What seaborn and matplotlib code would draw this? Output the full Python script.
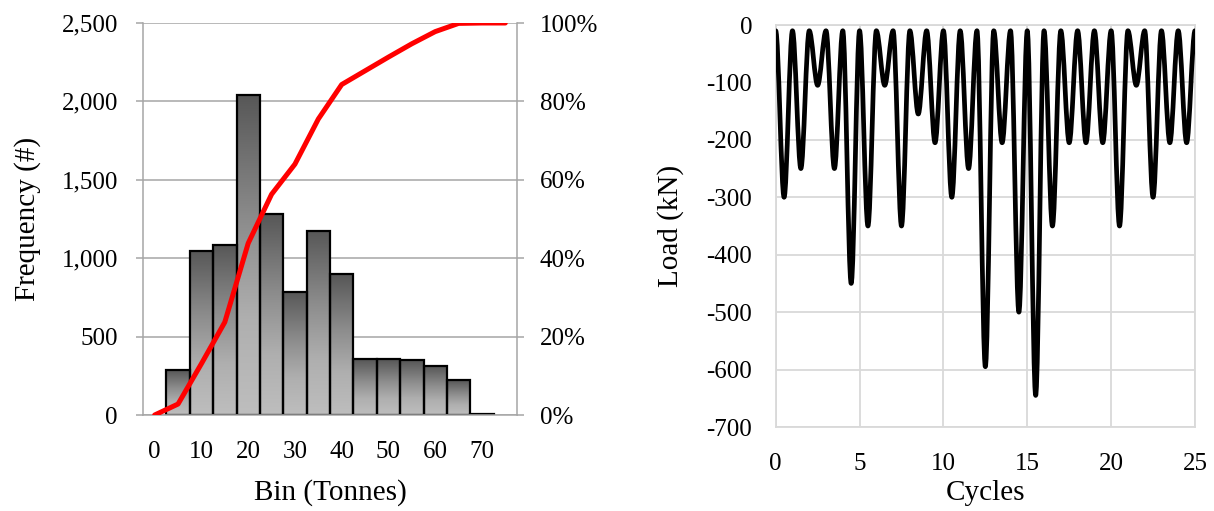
import numpy as np
import pandas as pd
import matplotlib
matplotlib.use("Agg")
import matplotlib.pyplot as plt
import seaborn as sns
from matplotlib.path import Path
from matplotlib.patches import PathPatch
from matplotlib.ticker import FuncFormatter
from matplotlib.colors import LinearSegmentedColormap

# ---- Load histogram (left panel) ----
bin_tonnes = [0, 5, 10, 15, 20, 25, 30, 35, 40, 45, 50, 55, 60, 65, 70, 75]
frequency = [0, 285, 1049, 1087, 2043, 1279, 786, 1175, 898, 355, 355, 350, 310, 223, 6, 0]
cumulative_pct = [0, 2.8, 13.1, 23.7, 43.8, 56.3, 64.0, 75.5, 84.3, 87.8, 91.3, 94.7, 97.8, 99.9, 100, 100]
freq_ticks = [0, 500, 1000, 1500, 2000, 2500]
pct_ticks = [0, 20, 40, 60, 80, 100]
bin_tick_labels = ["0", "10", "20", "30", "40", "50", "60", "70"]

# ---- Load history (right panel) ----
peak_load = -10
trough_load = [-300, -250, -105, -250, -450, -350, -105, -350, -155, -205,
               -300, -250, -595, -205, -500, -645, -350, -205, -205, -205,
               -350, -105, -300, -205, -205]
cycle_ticks = [0, 5, 10, 15, 20, 25]
load_ticks = [0, -100, -200, -300, -400, -500, -600, -700]

TICK_FS = 18
TITLE_FS = 21

sns.set_theme(style="white")
plt.rcParams["font.family"] = ["Liberation Serif", "DejaVu Serif"]
plt.rcParams["font.size"] = TICK_FS
plt.rcParams["axes.unicode_minus"] = False
plt.rcParams["text.color"] = "black"
plt.rcParams["axes.labelcolor"] = "black"
plt.rcParams["xtick.color"] = "black"
plt.rcParams["ytick.color"] = "black"

W, H = 1214, 511
fig = plt.figure(figsize=(W / 100, H / 100), dpi=100)


def px_axes(x0, y0, x1, y1):
    return fig.add_axes([x0 / W, 1 - y1 / H, (x1 - x0) / W, (y1 - y0) / H])


# ================= Histogram with cumulative curve =================
ax1 = px_axes(143, 23, 517, 415)
hist_df = pd.DataFrame({"bin": [str(b) for b in bin_tonnes], "freq": frequency})
sns.barplot(data=hist_df, x="bin", y="freq", order=hist_df["bin"], width=1.0,
            color="white", saturation=1, edgecolor="black", linewidth=1.6,
            ax=ax1, zorder=2)

grey_ramp = LinearSegmentedColormap.from_list(
    "bar_ramp", [(0.0, "#bebebe"), (0.3, "#afafaf"), (0.6, "#8d8d8d"), (1.0, "#575757")])
ramp = np.linspace(0, 1, 256).reshape(-1, 1)
for bar in list(ax1.patches):
    h = bar.get_height()
    if h <= 0:
        bar.set_visible(False)
        continue
    bar.set_facecolor("none")
    x0 = bar.get_x()
    ax1.imshow(ramp, extent=[x0, x0 + bar.get_width(), 0, h], origin="lower",
               aspect="auto", cmap=grey_ramp, vmin=0, vmax=1, zorder=1,
               interpolation="bilinear")

ax1.set_xlim(-0.5, len(bin_tonnes) - 0.5)
ax1.set_ylim(0, 2500)
ax1.set_yticks(freq_ticks)
ax1.yaxis.set_major_formatter(FuncFormatter(lambda v, p: f"{v:,.0f}"))
ax1.set_xticks(range(0, len(bin_tonnes), 2))
ax1.set_xticklabels(bin_tick_labels)
ax1.yaxis.grid(True, color="#a6a6a6", linewidth=1.1)
ax1.xaxis.grid(False)
ax1.set_axisbelow(True)
ax1.tick_params(axis="y", length=5, width=1.1, color="#a6a6a6", pad=13, labelsize=TICK_FS)
ax1.tick_params(axis="x", length=0, pad=18.5, labelsize=TICK_FS)
ax1.set_xlabel("Bin (Tonnes)", fontsize=TITLE_FS, labelpad=12)
ax1.set_ylabel("Frequency (#)", fontsize=TITLE_FS, labelpad=15)
for side in ["top", "right"]:
    ax1.spines[side].set_visible(False)
for side in ["left", "bottom"]:
    ax1.spines[side].set_color("#a6a6a6")
    ax1.spines[side].set_linewidth(1.1)

ax2 = ax1.twinx()
sns.lineplot(x=np.arange(len(bin_tonnes)), y=cumulative_pct, ax=ax2,
             color="#ff0000", linewidth=3.6, solid_capstyle="round")
ax2.set_ylim(0, 100)
ax2.set_yticks(pct_ticks)
ax2.yaxis.set_major_formatter(FuncFormatter(lambda v, p: f"{v:.0f}%"))
ax2.tick_params(axis="y", length=5, width=1.1, color="#a6a6a6", pad=11.5, labelsize=TICK_FS)
ax2.set_ylabel("")
for side in ["top", "left", "bottom"]:
    ax2.spines[side].set_visible(False)
ax2.spines["right"].set_color("#a6a6a6")
ax2.spines["right"].set_linewidth(1.1)
ax2.grid(False)

# ================= Load vs cycles =================
ax3 = px_axes(775.7, 25, 1195, 427)

# turning points: a peak at each whole cycle, a trough half way between
tx, ty = [], []
for i, trough in enumerate(trough_load):
    tx += [i, i + 0.5]
    ty += [peak_load, trough]
tx.append(len(trough_load))
ty.append(peak_load)

# smoothed line through the turning points (flat tangent at each extreme)
verts = [(tx[0], ty[0])]
codes = [Path.MOVETO]
for k in range(len(tx) - 1):
    dx = (tx[k + 1] - tx[k]) / 3
    verts += [(tx[k] + dx, ty[k]), (tx[k + 1] - dx, ty[k + 1]), (tx[k + 1], ty[k + 1])]
    codes += [Path.CURVE4] * 3
ax3.add_patch(PathPatch(Path(verts, codes), facecolor="none", edgecolor="black",
                        linewidth=3.4, joinstyle="round", capstyle="round", zorder=3))

ax3.set_xlim(0, 25)
ax3.set_ylim(-700, 0)
ax3.set_xticks(cycle_ticks)
ax3.set_yticks(load_ticks)
ax3.grid(True, color="#d9d9d9", linewidth=1.3)
ax3.set_axisbelow(True)
ax3.tick_params(axis="both", length=0, labelsize=TICK_FS)
ax3.tick_params(axis="y", pad=17)
ax3.tick_params(axis="x", pad=18.5)
for side in ax3.spines:
    ax3.spines[side].set_color("#d9d9d9")
    ax3.spines[side].set_linewidth(1.3)
ax3.set_xlabel("Cycles", fontsize=TITLE_FS, labelpad=4)
ax3.set_ylabel("Load (kN)", fontsize=TITLE_FS, labelpad=16)

fig.savefig("out.png", dpi=100)
